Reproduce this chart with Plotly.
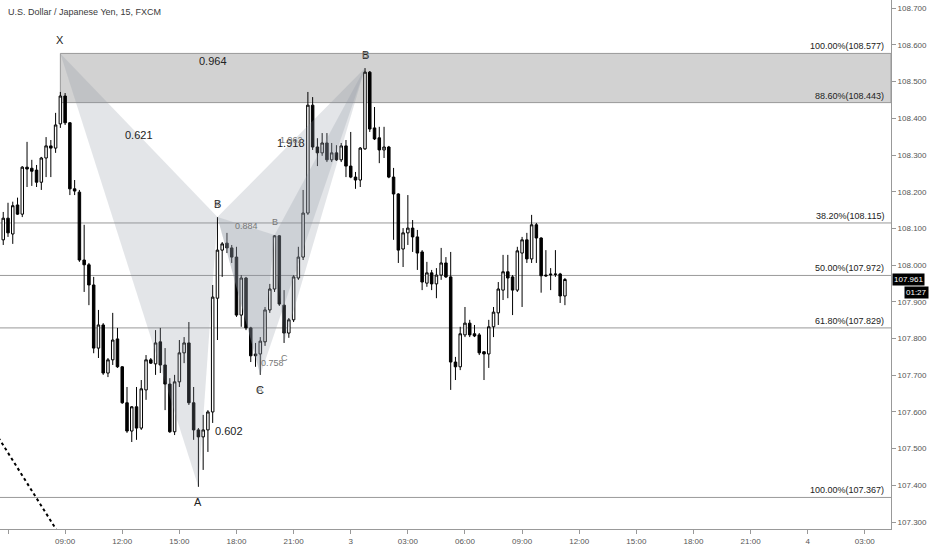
import pandas as pd
import plotly.graph_objects as go

# USD/JPY 15 min bars (FXCM), first visible bar at 05:45
bar_start = '2019-07-02 05:45'

opens = [108.069, 108.128, 108.085, 108.164, 108.139, 108.267, 108.264, 108.259, 108.226, 108.292,
         108.325, 108.319, 108.385, 108.461, 108.388, 108.208, 108.199, 108.014, 108.001, 107.946,
         107.774, 107.837, 107.706, 107.742, 107.799, 107.723, 107.625, 107.548, 107.614, 107.556,
         107.660, 107.742, 107.731, 107.791, 107.728, 107.676, 107.546, 107.682, 107.761, 107.788,
         107.625, 107.551, 107.532, 107.551, 107.600, 107.910, 108.041, 108.060, 108.047, 108.022,
         107.864, 107.965, 107.829, 107.758, 107.758, 107.791, 107.878, 107.935, 108.080, 107.891,
         107.815, 107.851, 107.965, 108.022, 108.142, 108.436, 108.322, 108.306, 108.333, 108.287,
         108.306, 108.287, 108.325, 108.270, 108.240, 108.232, 108.317, 108.526, 108.374, 108.347,
         108.314, 108.322, 108.240, 108.194, 108.044, 108.088, 108.101, 108.077, 108.036, 107.951,
         107.979, 107.949, 107.973, 108.006, 107.968, 107.736, 107.723, 107.810, 107.842, 107.813,
         107.810, 107.764, 107.758, 107.832, 107.870, 107.932, 107.982, 107.968, 107.932, 108.033,
         108.069, 108.017, 108.110, 108.074, 107.973, 107.976, 107.976, 107.976, 107.916]
highs = [108.145, 108.170, 108.173, 108.184, 108.270, 108.336, 108.287, 108.273, 108.295, 108.349,
         108.341, 108.415, 108.472, 108.469, 108.390, 108.232, 108.205, 108.110, 108.006, 107.968,
         107.878, 107.842, 107.747, 107.870, 107.829, 107.725, 107.668, 107.616, 107.668, 107.687,
         107.755, 107.747, 107.823, 107.829, 107.774, 107.692, 107.701, 107.796, 107.804, 107.845,
         107.668, 107.556, 107.592, 107.605, 107.946, 108.131, 108.063, 108.088, 108.055, 108.050,
         107.973, 107.968, 107.832, 107.788, 107.804, 107.886, 107.949, 108.082, 108.082, 107.932,
         107.856, 107.973, 108.050, 108.205, 108.472, 108.458, 108.346, 108.360, 108.360, 108.333,
         108.327, 108.333, 108.341, 108.363, 108.254, 108.322, 108.537, 108.529, 108.431, 108.377,
         108.377, 108.325, 108.265, 108.196, 108.101, 108.191, 108.123, 108.096, 108.041, 108.009,
         107.987, 107.992, 108.047, 108.022, 108.036, 107.750, 107.832, 107.886, 107.851, 107.837,
         107.815, 107.766, 107.851, 107.886, 107.954, 108.028, 108.028, 107.973, 108.050, 108.077,
         108.088, 108.137, 108.115, 108.076, 108.041, 107.992, 108.041, 107.979, 107.965]
lows = [108.055, 108.077, 108.058, 108.137, 108.131, 108.213, 108.216, 108.213, 108.205, 108.240,
        108.240, 108.306, 108.374, 108.382, 108.191, 108.191, 108.009, 107.927, 107.891, 107.760,
        107.747, 107.701, 107.695, 107.728, 107.720, 107.622, 107.543, 107.518, 107.524, 107.551,
        107.633, 107.731, 107.701, 107.706, 107.605, 107.543, 107.537, 107.668, 107.733, 107.619,
        107.524, 107.396, 107.442, 107.491, 107.570, 107.796, 107.968, 108.033, 108.006, 107.859,
        107.832, 107.823, 107.736, 107.723, 107.701, 107.780, 107.870, 107.927, 107.889, 107.788,
        107.802, 107.845, 107.960, 108.014, 108.137, 108.314, 108.270, 108.298, 108.281, 108.281,
        108.284, 108.281, 108.240, 108.237, 108.208, 108.213, 108.314, 108.363, 108.341, 108.278,
        108.292, 108.237, 108.069, 108.006, 107.995, 108.055, 108.036, 107.987, 107.932, 107.941,
        107.932, 107.910, 107.960, 107.965, 107.660, 107.687, 107.714, 107.804, 107.804, 107.804,
        107.755, 107.687, 107.720, 107.804, 107.837, 107.905, 107.910, 107.864, 107.927, 107.886,
        108.006, 108.006, 108.006, 107.925, 107.968, 107.932, 107.968, 107.897, 107.891]
closes = [108.128, 108.088, 108.162, 108.139, 108.267, 108.262, 108.256, 108.226, 108.292, 108.325,
          108.319, 108.382, 108.461, 108.388, 108.208, 108.202, 108.014, 108.001, 107.946, 107.774,
          107.837, 107.706, 107.742, 107.796, 107.723, 107.625, 107.548, 107.614, 107.556, 107.663,
          107.742, 107.733, 107.788, 107.728, 107.676, 107.546, 107.682, 107.761, 107.788, 107.625,
          107.551, 107.532, 107.551, 107.600, 107.913, 108.041, 108.058, 108.047, 108.022, 107.864,
          107.965, 107.829, 107.753, 107.753, 107.793, 107.878, 107.935, 108.080, 107.894, 107.815,
          107.851, 107.968, 108.022, 108.142, 108.436, 108.322, 108.306, 108.333, 108.287, 108.306,
          108.287, 108.325, 108.270, 108.240, 108.232, 108.319, 108.526, 108.371, 108.344, 108.314,
          108.322, 108.240, 108.194, 108.041, 108.088, 108.101, 108.077, 108.033, 107.954, 107.979,
          107.949, 107.973, 108.006, 107.968, 107.736, 107.723, 107.813, 107.842, 107.810, 107.807,
          107.761, 107.758, 107.832, 107.872, 107.935, 107.982, 107.965, 107.932, 108.039, 108.069,
          108.017, 108.110, 108.074, 107.971, 107.971, 107.974, 107.975, 107.916, 107.961]

times = pd.date_range(bar_start, periods=len(opens), freq='15min')

# fibonacci retracement levels drawn on the chart
fib_levels = [108.577, 108.443, 108.115, 107.972, 107.829, 107.367]
fib_labels = ['100.00%(108.577)', '88.60%(108.443)', '38.20%(108.115)',
              '50.00%(107.972)', '61.80%(107.829)', '100.00%(107.367)']

# the two harmonic patterns, point labels as they show on the chart
p1_names = ['X', 'A', 'B', 'C', 'B']
p1_times = pd.to_datetime(['2019-07-02 08:45', '2019-07-02 16:00', '2019-07-02 17:00',
                           '2019-07-02 19:15', '2019-07-03 00:45'])
p1_prices = [108.577, 107.396, 108.131, 107.701, 108.537]
p1_ratios = [(0, 2, '0.621'), (0, 4, '0.964'), (1, 3, '0.602'), (2, 4, '1.918')]

p2_names = ['X', 'A', 'B', 'C', 'D']
p2_times = pd.to_datetime(['2019-07-02 17:00', '2019-07-02 19:15', '2019-07-02 20:00',
                           '2019-07-02 20:30', '2019-07-03 00:45'])
p2_prices = [108.131, 107.701, 108.082, 107.788, 108.537]
p2_ratios = [(0, 2, '0.884'), (1, 3, '0.758'), (0, 4, '1.962')]

# dotted trend line coming in from the left
trend_times = ['2019-07-02 05:30', '2019-07-02 09:00']
trend_prices = [107.530, 107.241]

tick_labels = ['06:00', '09:00', '12:00', '15:00', '18:00', '21:00', '3', '03:00', '06:00',
               '09:00', '12:00', '15:00', '18:00', '21:00', '4', '03:00']
tick_times = pd.date_range('2019-07-02 06:00', periods=len(tick_labels), freq='3h')

x_range = [pd.Timestamp('2019-07-02 05:34:48'), pd.Timestamp('2019-07-04 04:22:30')]
y_range = [107.281, 108.7226]

last_close = closes[-1]
countdown = '01:27'

fig = go.Figure()

# pattern triangles (XAB and BCD for each pattern)
tri_fill = 'rgba(140,145,160,0.24)'
for pt, pp in [(p1_times, p1_prices), (p2_times, p2_prices)]:
    for a, b, c in [(0, 1, 2), (2, 3, 4)]:
        fig.add_trace(go.Scatter(x=[pt[a], pt[b], pt[c], pt[a]], y=[pp[a], pp[b], pp[c], pp[a]],
                                 mode='lines', fill='toself', fillcolor=tri_fill,
                                 line=dict(width=0), hoverinfo='skip', showlegend=False))

fig.add_trace(go.Scatter(x=trend_times, y=trend_prices, mode='lines',
                         line=dict(color='black', width=2, dash='dot'),
                         hoverinfo='skip', showlegend=False))

fig.add_trace(go.Candlestick(x=times, open=opens, high=highs, low=lows, close=closes,
                             increasing=dict(fillcolor='white', line=dict(color='black', width=1)),
                             decreasing=dict(fillcolor='black', line=dict(color='black', width=1)),
                             whiskerwidth=0, showlegend=False))

# fib zone box + level lines
fig.add_shape(type='rect', x0=p1_times[0], x1=x_range[1], y0=fib_levels[1], y1=fib_levels[0],
              fillcolor='#d2d2d2', line=dict(color='#999999', width=1), layer='below')
for lvl in fib_levels[2:]:
    fig.add_shape(type='line', x0=x_range[0], x1=x_range[1], y0=lvl, y1=lvl,
                  line=dict(color='#999999', width=1), layer='below')
for lvl, txt in zip(fib_levels, fib_labels):
    fig.add_annotation(x=1, xref='paper', xanchor='right', xshift=-5, y=lvl, yanchor='bottom',
                       text=txt, showarrow=False, font=dict(size=9, color='#222222'))

# pattern point labels and ratios
def mid(t, p, i, j):
    return t[i] + (t[j] - t[i]) / 2, (p[i] + p[j]) / 2

for pt, pp, names, ratios, size, color, rshift in [
        (p1_times, p1_prices, p1_names, p1_ratios, 11, '#222222', [0, 0, 0, 0]),
        (p2_times, p2_prices, p2_names, p2_ratios, 9, '#777777', [0, -4, 3])]:
    for k in range(5):
        shift = 13 if k % 2 == 0 else -15
        fig.add_annotation(x=pt[k], y=pp[k], text=names[k], showarrow=False, yshift=shift,
                           font=dict(size=size, color=color))
    for (i, j, txt), ys in zip(ratios, rshift):
        mx, my = mid(pt, pp, i, j)
        fig.add_annotation(x=mx, y=my, text=txt, showarrow=False, yshift=ys,
                           font=dict(size=size, color=color))

fig.add_annotation(x=0, xref='paper', xanchor='left', xshift=6, y=1, yref='paper', yanchor='top',
                   yshift=-5, text='U.S. Dollar / Japanese Yen, 15, FXCM', showarrow=False,
                   font=dict(size=9, color='#3a3a3a'))

fig.add_annotation(x=1, xref='paper', xanchor='left', xshift=1, y=last_close, text=f'{last_close:.3f}',
                   showarrow=False, bgcolor='black', font=dict(size=8, color='white'), borderpad=1)
fig.add_annotation(x=1, xref='paper', xanchor='left', xshift=13, y=last_close, yshift=-13,
                   text=countdown, showarrow=False, bgcolor='black', font=dict(size=8, color='white'),
                   borderpad=1)

fig.update_layout(
    width=932, height=550,
    margin=dict(l=0, r=41, t=0, b=21, autoexpand=False),
    paper_bgcolor='white', plot_bgcolor='white',
    font=dict(family='Liberation Sans, Arial, sans-serif'),
    boxgap=0.25,
    hovermode=False,
    xaxis=dict(type='date', range=x_range, rangeslider=dict(visible=False), showgrid=False,
               zeroline=False, showline=True, linecolor='#999999', linewidth=1,
               ticks='outside', ticklen=4, tickcolor='#999999',
               tickvals=tick_times, ticktext=tick_labels, tickfont=dict(size=8, color='#555555')),
    yaxis=dict(range=y_range, side='right', showgrid=False, zeroline=False, showline=True,
               linecolor='#999999', linewidth=1, ticks='outside', ticklen=4, tickcolor='#999999',
               dtick=0.1, tick0=107.3, tickformat='.3f', tickfont=dict(size=8, color='#555555')),
)

fig.write_html('out.html', config={'displayModeBar': False},
               post_script="document.body.style.margin='0px';")
